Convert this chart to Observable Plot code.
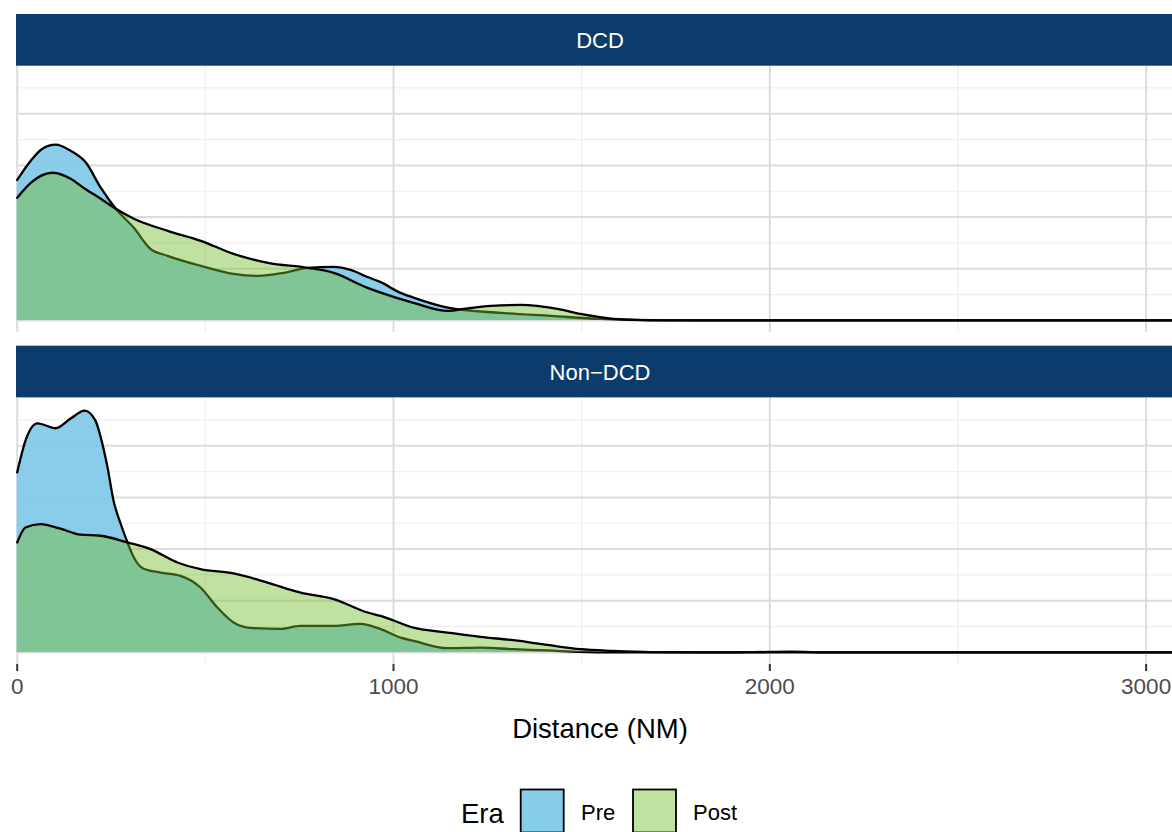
<!DOCTYPE html>
<html><head><meta charset="utf-8">
<script src="https://cdn.jsdelivr.net/npm/d3@7"></script>
<script src="https://cdn.jsdelivr.net/npm/@observablehq/plot@0.6"></script>
<style>
html,body{margin:0;padding:0;background:#fff;}
#root{position:relative;width:1172px;height:832px;overflow:hidden;font-family:"Liberation Sans",Arial,Helvetica,sans-serif;background:#fff;}
.abs{position:absolute;left:0;max-width:none !important;}
</style></head><body><div id="root"></div>
<script>
// ---- data ----
const facets = ["DCD", "Non\u2212DCD"];
const eras = ["Pre", "Post"];

const dcdPreDist = [0, 36, 67, 102, 142, 182, 222, 262, 310, 354, 400, 488, 575, 639, 708, 772, 841, 886, 931, 966, 1019, 1053, 1144, 1285, 1418, 1550, 1683, 1800, 2200, 2600, 3102];
const dcdPreDens = [0.001359, 0.001546, 0.001662, 0.001701, 0.001642, 0.00153, 0.001284, 0.00108, 0.000896, 0.000693, 0.000625, 0.000528, 0.00045, 0.000431, 0.00046, 0.000509, 0.000518, 0.000489, 0.00042, 0.00037, 0.000266, 0.000221, 0.000124, 0.0000727, 0.0000436, 0.0000145, 0.000002, 0, 0, 0, 0];

const dcdPostDist = [0, 36, 94, 142, 176, 222, 262, 310, 400, 488, 575, 666, 772, 841, 931, 966, 1053, 1144, 1186, 1260, 1338, 1436, 1497, 1585, 1683, 1800, 2200, 2600, 3102];
const dcdPostDens = [0.001187, 0.001332, 0.001429, 0.001371, 0.001284, 0.001177, 0.00108, 0.000984, 0.000867, 0.00077, 0.000644, 0.000557, 0.000509, 0.00046, 0.000315, 0.000269, 0.00017, 0.000092, 0.000111, 0.00014, 0.00015, 0.000111, 0.000063, 0.0000145, 0.000001, 0, 0, 0, 0];

const nonPreDist = [0, 22, 54, 102, 142, 179, 208, 222, 240, 256, 275, 293, 310, 336, 381, 434, 487, 532, 575, 620, 700, 753, 841, 912, 966, 1019, 1054, 1144, 1231, 1319, 1409, 1497, 1585, 1800, 2200, 2600, 3102];
const nonPreDens = [0.001742, 0.00205, 0.002217, 0.002169, 0.002263, 0.00234, 0.002243, 0.002081, 0.001791, 0.001468, 0.001245, 0.001064, 0.000919, 0.000809, 0.000773, 0.000741, 0.000628, 0.000434, 0.000289, 0.000237, 0.000228, 0.000257, 0.000257, 0.000276, 0.000225, 0.000143, 0.000111, 0.0000407, 0.0000465, 0.000031, 0.0000194, 0.000005, 0, 0, 0, 0, 0];

const nonPostDist = [0, 22, 62, 115, 168, 221, 293, 354, 426, 487, 575, 665, 753, 841, 931, 966, 1053, 1144, 1231, 1319, 1409, 1497, 1585, 1683, 1816, 1950, 2055, 2162, 2600, 3102];
const nonPostDens = [0.001064, 0.001209, 0.001242, 0.001197, 0.001139, 0.001129, 0.001064, 0.001, 0.00087, 0.000806, 0.000764, 0.000676, 0.000579, 0.000516, 0.000386, 0.000354, 0.00024, 0.000192, 0.00015, 0.000118, 0.0000727, 0.000031, 0.0000145, 0.000003, 0, 0.000002, 0.000007, 0, 0, 0];

const xTicks = [0, 1000, 2000, 3000];
const xMinor = [500, 1500, 2500];
const yMajor = [0, 0.0005, 0.001, 0.0015, 0.002];
const yMinor = [0.00025, 0.00075, 0.00125, 0.00175, 0.00225];
const xTitle = "Distance (NM)";
const legendTitle = "Era";

// ---- helpers ----
const rows = (xs, ys) => xs.map((d, i) => ({dist: d, dens: ys[i]}));
const series = {
  "DCD": {Pre: rows(dcdPreDist, dcdPreDens), Post: rows(dcdPostDist, dcdPostDens)},
  "Non\u2212DCD": {Pre: rows(nonPreDist, nonPreDens), Post: rows(nonPostDist, nonPostDens)}
};
const fills = {Pre: "#7CC8E8", Post: "#76BD2F"};
const fillOp = {Pre: 0.9, Post: 0.45};
const keyFills = {Pre: "#87CDEA", Post: "#C1E1A1"};
const FONT = '"Liberation Sans", Arial, Helvetica, sans-serif';

const root = document.getElementById("root");
const PANEL_H = 266;
const panelTops = [65.7, 397.7];
const stripTops = [14, 345.7];

function makePanel(facet, withAxis) {
  const s = series[facet];
  const mb = withAxis ? 44 : 0;
  const marks = [
    Plot.ruleX(xMinor, {stroke: "#EFEFEF", strokeWidth: 1.2}),
    Plot.ruleY(yMinor, {stroke: "#EFEFEF", strokeWidth: 1.2}),
    Plot.ruleX(xTicks, {stroke: "#DCDCDC", strokeWidth: 2}),
    Plot.ruleY(yMajor, {stroke: "#DCDCDC", strokeWidth: 2})
  ];
  for (const e of eras) {
    marks.push(Plot.areaY(s[e], {x: "dist", y1: 0, y2: "dens", fill: fills[e], fillOpacity: fillOp[e], curve: "monotone-x"}));
    marks.push(Plot.lineY(s[e], {x: "dist", y: "dens", stroke: "#000", strokeWidth: 2.3, curve: "monotone-x"}));
  }
  if (withAxis) {
    marks.push(Plot.axisX(xTicks, {tickSize: 7, tickPadding: 6.3, fontSize: 22.5, stroke: "#333333", strokeWidth: 2, fill: "#4D4D4D", tickFormat: d => String(d), label: null}));
  }
  return Plot.plot({
    width: 1184, height: PANEL_H + mb,
    marginLeft: 16, marginRight: 0, marginTop: 0, marginBottom: mb,
    x: {domain: [-1.86, 3102], axis: null, label: null},
    y: {domain: [-0.000117, 0.002457], axis: null, label: null},
    style: {fontFamily: FONT, background: "transparent", overflow: "visible", maxWidth: "none"},
    marks
  });
}

facets.forEach((f, i) => {
  const el = makePanel(f, i === facets.length - 1);
  el.classList.add("abs");
  el.style.top = panelTops[i] + "px";
  el.style.maxWidth = "none";
  el.style.width = "1184px";
  root.appendChild(el);
});

// ---- strips, axis title, legend ----
const svg = d3.create("svg").attr("width", 1172).attr("height", 832)
  .style("position", "absolute").style("left", 0).style("top", 0)
  .style("font-family", FONT).style("pointer-events", "none");

facets.forEach((f, i) => {
  svg.append("rect").attr("x", 16).attr("y", stripTops[i]).attr("width", 1168).attr("height", 51.7).attr("fill", "#0B3C6B");
  svg.append("text").attr("x", 600).attr("y", stripTops[i] + 34.4).attr("text-anchor", "middle")
    .attr("font-size", 22).attr("fill", "#FFFFFF").text(f);
});

svg.append("text").attr("x", 600).attr("y", 738).attr("text-anchor", "middle")
  .attr("font-size", 27.5).attr("fill", "#000").text(xTitle);

svg.append("text").attr("x", 461).attr("y", 822.7).attr("font-size", 27.5).attr("fill", "#000").text(legendTitle);
const keyX = {Pre: 520.7, Post: 633};
const labX = {Pre: 581, Post: 693};
for (const e of eras) {
  svg.append("rect").attr("x", keyX[e]).attr("y", 789.5).attr("width", 43).attr("height", 43)
    .attr("fill", keyFills[e]).attr("stroke", "#000").attr("stroke-width", 1.8);
  svg.append("text").attr("x", labX[e]).attr("y", 820).attr("font-size", 22).attr("fill", "#000").text(e);
}
root.appendChild(svg.node());
</script>
</body></html>
